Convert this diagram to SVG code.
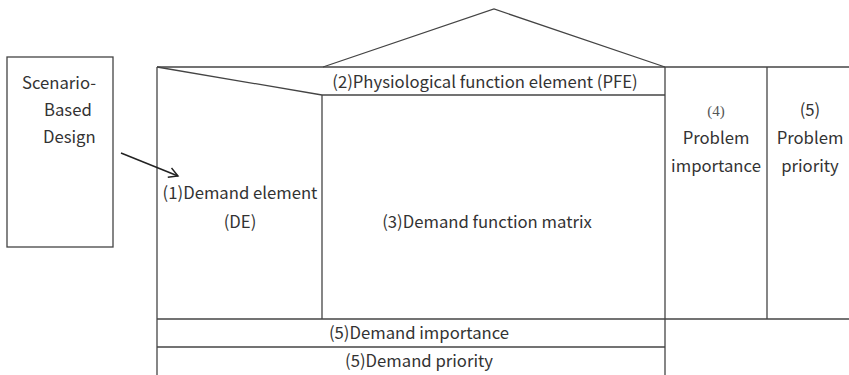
<svg xmlns="http://www.w3.org/2000/svg" width="849" height="375" viewBox="0 0 849 375">
<defs>
<style>
.ln{fill:none;stroke:#444;stroke-width:1.3}
.t{font-family:"Noto Sans CJK KR","Noto Sans",sans-serif;font-size:16.7px;fill:#333}
.c{text-anchor:middle}
.s{font-family:"Liberation Serif",serif;font-size:15px;fill:#555}
</style>
<marker id="ah" markerWidth="12" markerHeight="12" refX="10" refY="6" orient="auto" markerUnits="userSpaceOnUse">
<path d="M1,1 L10,6 L1,11" fill="none" stroke="#222" stroke-width="1.4"/>
</marker>
</defs>
<rect width="849" height="375" fill="#fff"/>
<g id="scenario">
<rect class="ln" x="7" y="57" width="106" height="190"/>
<text class="t" x="22" y="89">Scenario-</text>
<text class="t" x="44" y="116">Based</text>
<text class="t" x="43" y="143">Design</text>
</g>
<g id="roof">
<polyline class="ln" points="323,67 494,9 665,67"/>
</g>
<g id="pfe">
<line class="ln" x1="157" y1="67" x2="849" y2="67"/>
<line class="ln" x1="157" y1="67" x2="322" y2="95"/>
<line class="ln" x1="322" y1="95" x2="665" y2="95"/>
<text class="t c" x="485" y="88">(2)Physiological function element (PFE)</text>
</g>
<g id="de">
<line class="ln" x1="157" y1="67" x2="157" y2="375"/>
<line class="ln" x1="322" y1="95" x2="322" y2="319"/>
<text class="t c" x="240" y="199">(1)Demand element</text>
<text class="t c" x="240" y="228">(DE)</text>
</g>
<g id="matrix">
<text class="t c" x="487" y="228">(3)Demand function matrix</text>
</g>
<g id="problem-importance">
<line class="ln" x1="665" y1="67" x2="665" y2="375"/>
<text class="s c" x="716" y="116">(4)</text>
<text class="t c" x="716" y="144">Problem</text>
<text class="t c" x="716" y="172">importance</text>
</g>
<g id="problem-priority">
<line class="ln" x1="767" y1="67" x2="767" y2="319"/>
<line class="ln" x1="157" y1="319" x2="849" y2="319"/>
<text class="t c" x="810" y="116">(5)</text>
<text class="t c" x="810" y="144">Problem</text>
<text class="t c" x="810" y="172">priority</text>
</g>
<g id="demand-importance">
<line class="ln" x1="157" y1="347" x2="665" y2="347"/>
<text class="t c" x="419" y="339">(5)Demand importance</text>
</g>
<g id="demand-priority">
<text class="t c" x="419" y="367">(5)Demand priority</text>
</g>
<g id="connectors">
<line x1="121" y1="153" x2="178" y2="176" stroke="#222" stroke-width="1.5" marker-end="url(#ah)"/>
</g>
</svg>
